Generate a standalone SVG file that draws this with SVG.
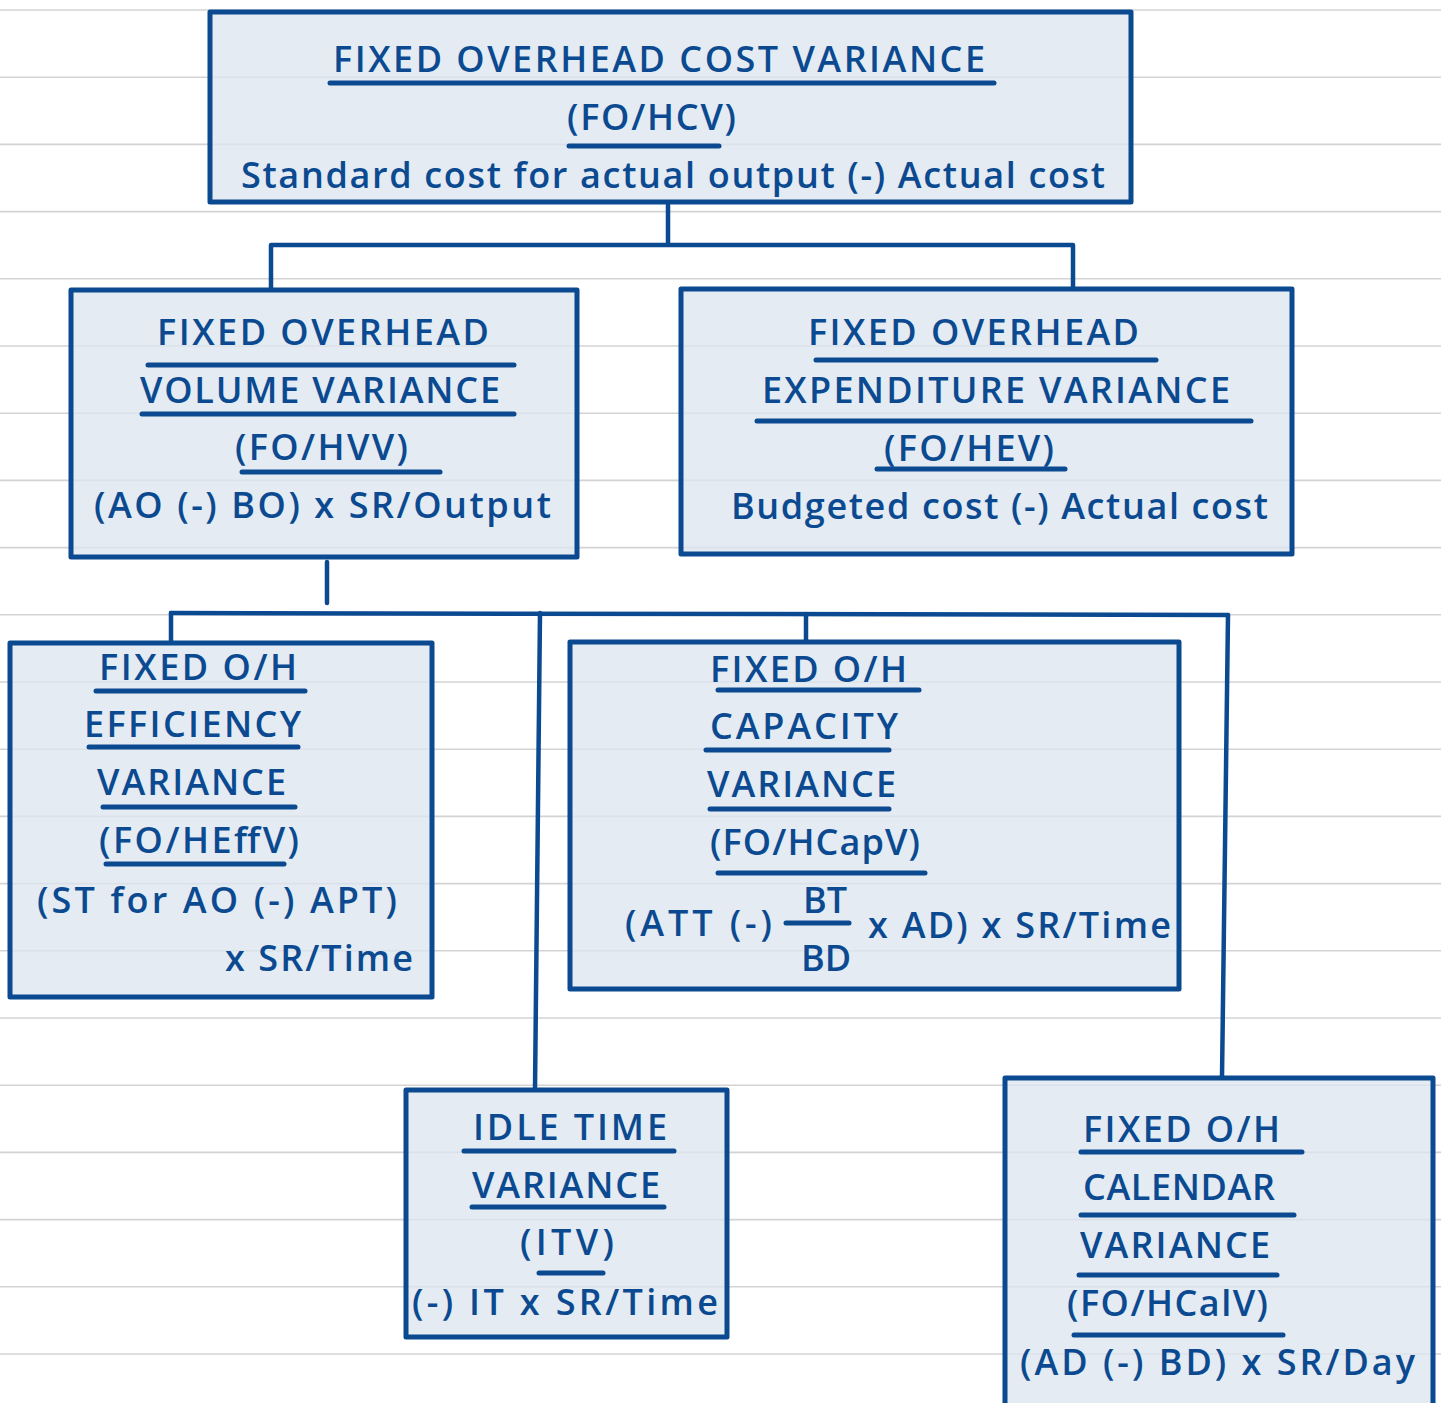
<svg xmlns="http://www.w3.org/2000/svg" width="1441" height="1403" viewBox="0 0 1441 1403">
  <style>
    .rule { stroke: #d3d3d3; stroke-width: 1.6; }
    .box { fill: #dce5f0; fill-opacity: 0.78; stroke: #0b4a90; stroke-width: 5; stroke-linejoin: round; }
    .ul { stroke: #0b4a90; stroke-width: 5; stroke-linecap: round; fill: none; }
    .wire { stroke: #0b4a90; stroke-width: 4.5; stroke-linecap: round; stroke-linejoin: round; fill: none; }
    text { font-family: "Open Sans", "Noto Sans", "Liberation Sans", sans-serif; font-size: 36px; font-weight: 600; fill: #0b4a90; }
    .frac { text-anchor: middle; }
  </style>

  <rect width="1441" height="1403" fill="#ffffff"/>

  <!-- ruled paper -->
  <g id="paper">
    <line class="rule" x1="0" y1="10" x2="1441" y2="10"/>
    <line class="rule" x1="0" y1="77.2" x2="1441" y2="77.2"/>
    <line class="rule" x1="0" y1="144.4" x2="1441" y2="144.4"/>
    <line class="rule" x1="0" y1="211.6" x2="1441" y2="211.6"/>
    <line class="rule" x1="0" y1="278.8" x2="1441" y2="278.8"/>
    <line class="rule" x1="0" y1="346" x2="1441" y2="346"/>
    <line class="rule" x1="0" y1="413.2" x2="1441" y2="413.2"/>
    <line class="rule" x1="0" y1="480.4" x2="1441" y2="480.4"/>
    <line class="rule" x1="0" y1="547.6" x2="1441" y2="547.6"/>
    <line class="rule" x1="0" y1="614.8" x2="1441" y2="614.8"/>
    <line class="rule" x1="0" y1="682" x2="1441" y2="682"/>
    <line class="rule" x1="0" y1="749.2" x2="1441" y2="749.2"/>
    <line class="rule" x1="0" y1="816.4" x2="1441" y2="816.4"/>
    <line class="rule" x1="0" y1="883.6" x2="1441" y2="883.6"/>
    <line class="rule" x1="0" y1="950.8" x2="1441" y2="950.8"/>
    <line class="rule" x1="0" y1="1018" x2="1441" y2="1018"/>
    <line class="rule" x1="0" y1="1085.2" x2="1441" y2="1085.2"/>
    <line class="rule" x1="0" y1="1152.4" x2="1441" y2="1152.4"/>
    <line class="rule" x1="0" y1="1219.6" x2="1441" y2="1219.6"/>
    <line class="rule" x1="0" y1="1286.8" x2="1441" y2="1286.8"/>
    <line class="rule" x1="0" y1="1354" x2="1441" y2="1354"/>
  </g>

  <!-- connectors -->
  <g id="connectors">
    <path class="wire" d="M668 205 V245 M271 245 H1073 M271 245 V290 M1073 245 V289"/>
    <path class="wire" d="M327 562 V603"/>
    <path class="wire" d="M171 613 L1228 615"/>
    <path class="wire" d="M171 613 V643"/>
    <path class="wire" d="M540 613 L535 1089"/>
    <path class="wire" d="M806 614 V642"/>
    <path class="wire" d="M1228 615 L1222 1078"/>
  </g>

  <!-- total fixed overhead cost variance -->
  <g id="node-cost">
    <rect class="box" x="210" y="12" width="921" height="190"/>
    <text x="333" y="72" textLength="652">FIXED OVERHEAD COST VARIANCE</text>
    <line class="ul" x1="330" y1="83" x2="994" y2="83"/>
    <text x="567" y="130" textLength="169">(FO/HCV)</text>
    <line class="ul" x1="569" y1="146" x2="719" y2="146"/>
    <text x="241" y="188" textLength="864">Standard cost for actual output (-) Actual cost</text>
  </g>

  <!-- volume variance -->
  <g id="node-volume">
    <rect class="box" x="71" y="290" width="506" height="267"/>
    <text x="157" y="345" textLength="332">FIXED OVERHEAD</text>
    <line class="ul" x1="148" y1="365" x2="514" y2="365"/>
    <text x="140" y="403" textLength="360">VOLUME VARIANCE</text>
    <line class="ul" x1="142" y1="414" x2="514" y2="414"/>
    <text x="235" y="460" textLength="173">(FO/HVV)</text>
    <line class="ul" x1="242" y1="472" x2="440" y2="472"/>
    <text x="94" y="518" textLength="457">(AO (-) BO) x SR/Output</text>
  </g>

  <!-- expenditure variance -->
  <g id="node-expenditure">
    <rect class="box" x="681" y="289" width="611" height="265"/>
    <text x="808" y="345" textLength="331">FIXED OVERHEAD</text>
    <line class="ul" x1="816" y1="360" x2="1156" y2="360"/>
    <text x="762" y="403" textLength="468">EXPENDITURE VARIANCE</text>
    <line class="ul" x1="757" y1="421" x2="1251" y2="421"/>
    <text x="884" y="461" textLength="170">(FO/HEV)</text>
    <line class="ul" x1="877" y1="469" x2="1065" y2="469"/>
    <text x="731" y="519" textLength="537">Budgeted cost (-) Actual cost</text>
  </g>

  <!-- efficiency variance -->
  <g id="node-efficiency">
    <rect class="box" x="10" y="643" width="422" height="354"/>
    <text x="99" y="680" textLength="198">FIXED O/H</text>
    <line class="ul" x1="96" y1="691" x2="305" y2="691"/>
    <text x="84" y="737" textLength="217">EFFICIENCY</text>
    <line class="ul" x1="89" y1="747" x2="298" y2="747"/>
    <text x="97" y="795" textLength="189">VARIANCE</text>
    <line class="ul" x1="103" y1="807" x2="295" y2="807"/>
    <text x="99" y="853" textLength="200">(FO/HEffV)</text>
    <line class="ul" x1="106" y1="864" x2="284" y2="864"/>
    <text x="37" y="913" textLength="360">(ST for AO (-) APT)</text>
    <text x="225" y="971" textLength="188">x SR/Time</text>
  </g>

  <!-- capacity variance -->
  <g id="node-capacity">
    <rect class="box" x="570" y="642" width="609" height="347"/>
    <text x="710" y="682" textLength="197">FIXED O/H</text>
    <line class="ul" x1="718" y1="690" x2="919" y2="690"/>
    <text x="710" y="739" textLength="188">CAPACITY</text>
    <line class="ul" x1="706" y1="750" x2="889" y2="750"/>
    <text x="707" y="797" textLength="189">VARIANCE</text>
    <line class="ul" x1="710" y1="809" x2="889" y2="809"/>
    <text x="710" y="855" textLength="210">(FO/HCapV)</text>
    <line class="ul" x1="718" y1="873" x2="925" y2="873"/>
    <text x="625" y="936" textLength="147">(ATT (-)</text>
    <text class="frac" x="825" y="913">BT</text>
    <line class="ul" x1="786" y1="923" x2="849" y2="923"/>
    <text class="frac" x="826" y="971">BD</text>
    <text x="868" y="938" textLength="303">x AD) x SR/Time</text>
  </g>

  <!-- idle time variance -->
  <g id="node-idle">
    <rect class="box" x="406" y="1090" width="321" height="247"/>
    <text x="473" y="1140" textLength="194">IDLE TIME</text>
    <line class="ul" x1="464" y1="1151" x2="674" y2="1151"/>
    <text x="472" y="1198" textLength="188">VARIANCE</text>
    <line class="ul" x1="472" y1="1207" x2="664" y2="1207"/>
    <text x="520" y="1255" textLength="94">(ITV)</text>
    <line class="ul" x1="539" y1="1273" x2="603" y2="1273"/>
    <text x="412" y="1315" textLength="306">(-) IT x SR/Time</text>
  </g>

  <!-- calendar variance -->
  <g id="node-calendar">
    <rect class="box" x="1005" y="1078" width="428" height="340"/>
    <text x="1083" y="1142" textLength="197">FIXED O/H</text>
    <line class="ul" x1="1081" y1="1152" x2="1302" y2="1152"/>
    <text x="1083" y="1200" textLength="192">CALENDAR</text>
    <line class="ul" x1="1081" y1="1215" x2="1294" y2="1215"/>
    <text x="1080" y="1258" textLength="190">VARIANCE</text>
    <line class="ul" x1="1079" y1="1275" x2="1277" y2="1275"/>
    <text x="1067" y="1316" textLength="201">(FO/HCalV)</text>
    <line class="ul" x1="1074" y1="1335" x2="1283" y2="1335"/>
    <text x="1020" y="1375" textLength="395">(AD (-) BD) x SR/Day</text>
  </g>
</svg>
